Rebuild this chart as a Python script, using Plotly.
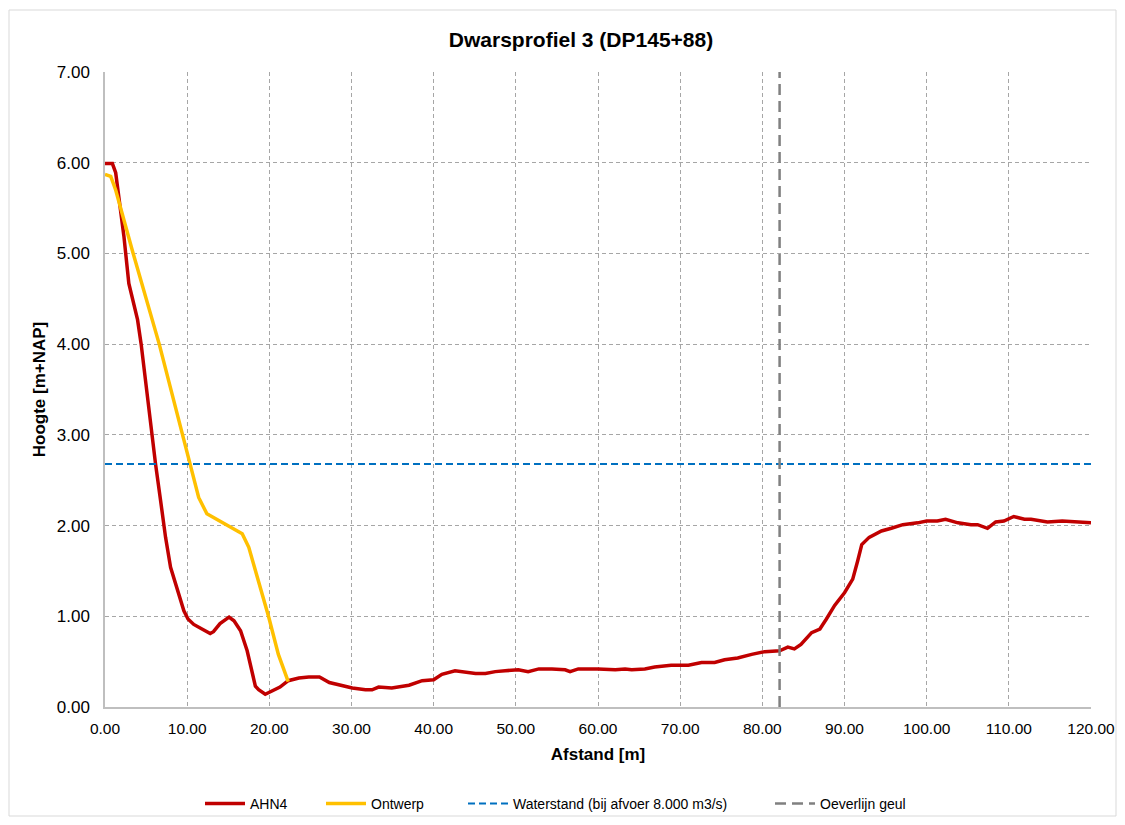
import plotly.graph_objects as go

# AHN4 terrain profile
ahn4_x = [0.0, 0.9, 1.3, 2.3, 2.9, 3.96, 4.4, 5.0, 5.75, 6.15, 6.76, 7.37, 7.98, 8.8, 9.6, 10.1, 10.8, 11.8, 12.8,
          13.2, 14.0, 15.1, 15.7, 16.5, 17.3, 18.3, 18.7, 19.5, 20.3, 21.3, 22.3, 23.6, 24.8, 26.1, 27.3,
          28.9, 30.1, 31.7, 32.5, 33.3, 34.9, 37.0, 38.6, 40.0, 41.0, 42.6, 43.6, 45.1, 46.3, 47.5, 48.7,
          50.3, 51.5, 52.8, 54.4, 56.0, 56.6, 57.6, 60.0, 62.1, 63.3, 64.1, 65.7, 66.9, 68.9, 71.0, 72.6,
          74.2, 75.4, 77.0, 78.7, 80.3, 82.1, 83.1, 83.9, 84.7, 86.0, 87.0, 87.8, 88.8, 90.0, 91.0, 91.6,
          92.1, 93.0, 94.5, 95.7, 97.1, 98.9, 100.0, 101.3, 102.3, 103.8, 105.4, 106.2, 107.4, 108.4,
          109.4, 110.6, 111.9, 112.7, 114.7, 116.5, 118.3, 120.0]
ahn4_y = [5.99, 5.99, 5.89, 5.19, 4.67, 4.27, 4.00, 3.56, 2.94, 2.68, 2.28, 1.87, 1.54, 1.28, 1.06, 0.97, 0.91, 0.86, 0.81,
          0.83, 0.92, 0.99, 0.95, 0.84, 0.62, 0.23, 0.19, 0.14, 0.18, 0.22, 0.29, 0.32, 0.33, 0.33, 0.27,
          0.24, 0.21, 0.19, 0.19, 0.22, 0.21, 0.24, 0.29, 0.30, 0.36, 0.40, 0.39, 0.37, 0.37, 0.39, 0.40,
          0.41, 0.39, 0.42, 0.42, 0.41, 0.39, 0.42, 0.42, 0.41, 0.42, 0.41, 0.42, 0.44, 0.46, 0.46, 0.49,
          0.49, 0.52, 0.54, 0.58, 0.61, 0.62, 0.66, 0.64, 0.69, 0.82, 0.86, 0.97, 1.12, 1.26, 1.41, 1.61,
          1.79, 1.87, 1.94, 1.97, 2.01, 2.03, 2.05, 2.05, 2.07, 2.03, 2.01, 2.01, 1.97, 2.04,
          2.05, 2.10, 2.07, 2.07, 2.04, 2.05, 2.04, 2.03]

# Design profile
ontwerp_x = [0.0, 0.7, 1.3, 3.3, 6.6, 9.6, 10.4, 11.4, 12.4, 13.8, 15.5, 16.7, 17.5, 18.7, 19.9, 21.1, 22.3]
ontwerp_y = [5.87, 5.85, 5.70, 5.04, 4.00, 2.94, 2.68, 2.31, 2.13, 2.06, 1.98, 1.91, 1.76, 1.39, 1.00, 0.58, 0.28]

# Water level and bank line
water_level = 2.68
water_x = [0, 120]
oever_x = 82.1
oever_y = [0, 7]

title = "Dwarsprofiel 3 (DP145+88)"
x_title = "Afstand [m]"
y_title = "Hoogte [m+NAP]"

FONT = "Liberation Sans, Arial, sans-serif"

W, H = 1109, 809
L, R, T, B = 97, 26, 64, 110
PW, PH = W - L - R, H - T - B
OFF = 8  # page body margin


def px_to_paper(page_px):
    return (page_px - OFF - L) / PW


legend_page_x = [200, 321, 463, 770]
legend_names = ["legend", "legend2", "legend3", "legend4"]

fig = go.Figure()
fig.add_trace(go.Scatter(x=ahn4_x, y=ahn4_y, mode="lines", name="AHN4", legend="legend",
                         line=dict(color="#C00000", width=3.5)))
fig.add_trace(go.Scatter(x=ontwerp_x, y=ontwerp_y, mode="lines", name="Ontwerp", legend="legend2",
                         line=dict(color="#FFC000", width=3.5)))
fig.add_trace(go.Scatter(x=water_x, y=[water_level] * len(water_x), mode="lines",
                         name="Waterstand (bij afvoer 8.000 m3/s)", legend="legend3",
                         line=dict(color="#0070C0", width=2, dash="7px,4px")))
fig.add_trace(go.Scatter(x=[oever_x] * len(oever_y), y=oever_y, mode="lines", name="Oeverlijn geul",
                         legend="legend4",
                         line=dict(color="#808080", width=2.5, dash="11px,6px")))

legend_common = dict(orientation="h", xanchor="left", yref="container", y=1 - 796 / H,
                     yanchor="middle", font=dict(size=14, family=FONT), bgcolor="rgba(0,0,0,0)",
                     itemwidth=40)

layout_legends = {}
for name, lx in zip(legend_names, legend_page_x):
    layout_legends[name] = dict(x=px_to_paper(lx), **legend_common)

fig.update_layout(
    width=W, height=H, autosize=False,
    margin=dict(l=L, r=R, t=T, b=B, autoexpand=False),
    paper_bgcolor="white", plot_bgcolor="white",
    font=dict(family=FONT, size=17, color="#000000"),
    title=dict(text="<b>" + title + "</b>", x=px_to_paper(581), xref="paper", xanchor="center",
               y=1 - 32 / H, yanchor="middle", font=dict(size=21, family=FONT)),
    showlegend=True,
    xaxis=dict(range=[0, 120], tickmode="linear", tick0=0, dtick=10, tickformat=".2f",
               showgrid=True, gridcolor="#A6A6A6", griddash="4px,3px", gridwidth=1,
               showline=True, linecolor="#BFBFBF", linewidth=1.5, zeroline=False,
               automargin=False,
               ticks="", tickfont=dict(size=15.5), ticklabelstandoff=7, ticklabeloverflow="allow",
               title=dict(text="<b>" + x_title + "</b>", font=dict(size=17), standoff=12)),
    yaxis=dict(range=[0, 7], tickmode="linear", tick0=0, dtick=1, tickformat=".2f",
               showgrid=True, gridcolor="#A6A6A6", griddash="4px,3px", gridwidth=1,
               showline=True, linecolor="#BFBFBF", linewidth=1.5, zeroline=False,
               automargin=False,
               ticks="", tickfont=dict(size=17), ticklabelstandoff=10,
               title=dict(text="<b>" + y_title + "</b>", font=dict(size=17), standoff=7)),
    **layout_legends,
)

# outer chart border
fig.add_shape(type="rect", xref="paper", yref="paper",
              x0=-(L - 1) / PW, y0=-(B - 1) / PH, x1=1 + (R - 1) / PW, y1=1 + (T - 2) / PH,
              line=dict(color="#D9D9D9", width=1), fillcolor="rgba(0,0,0,0)", layer="below")

fig.write_html("out.html")
